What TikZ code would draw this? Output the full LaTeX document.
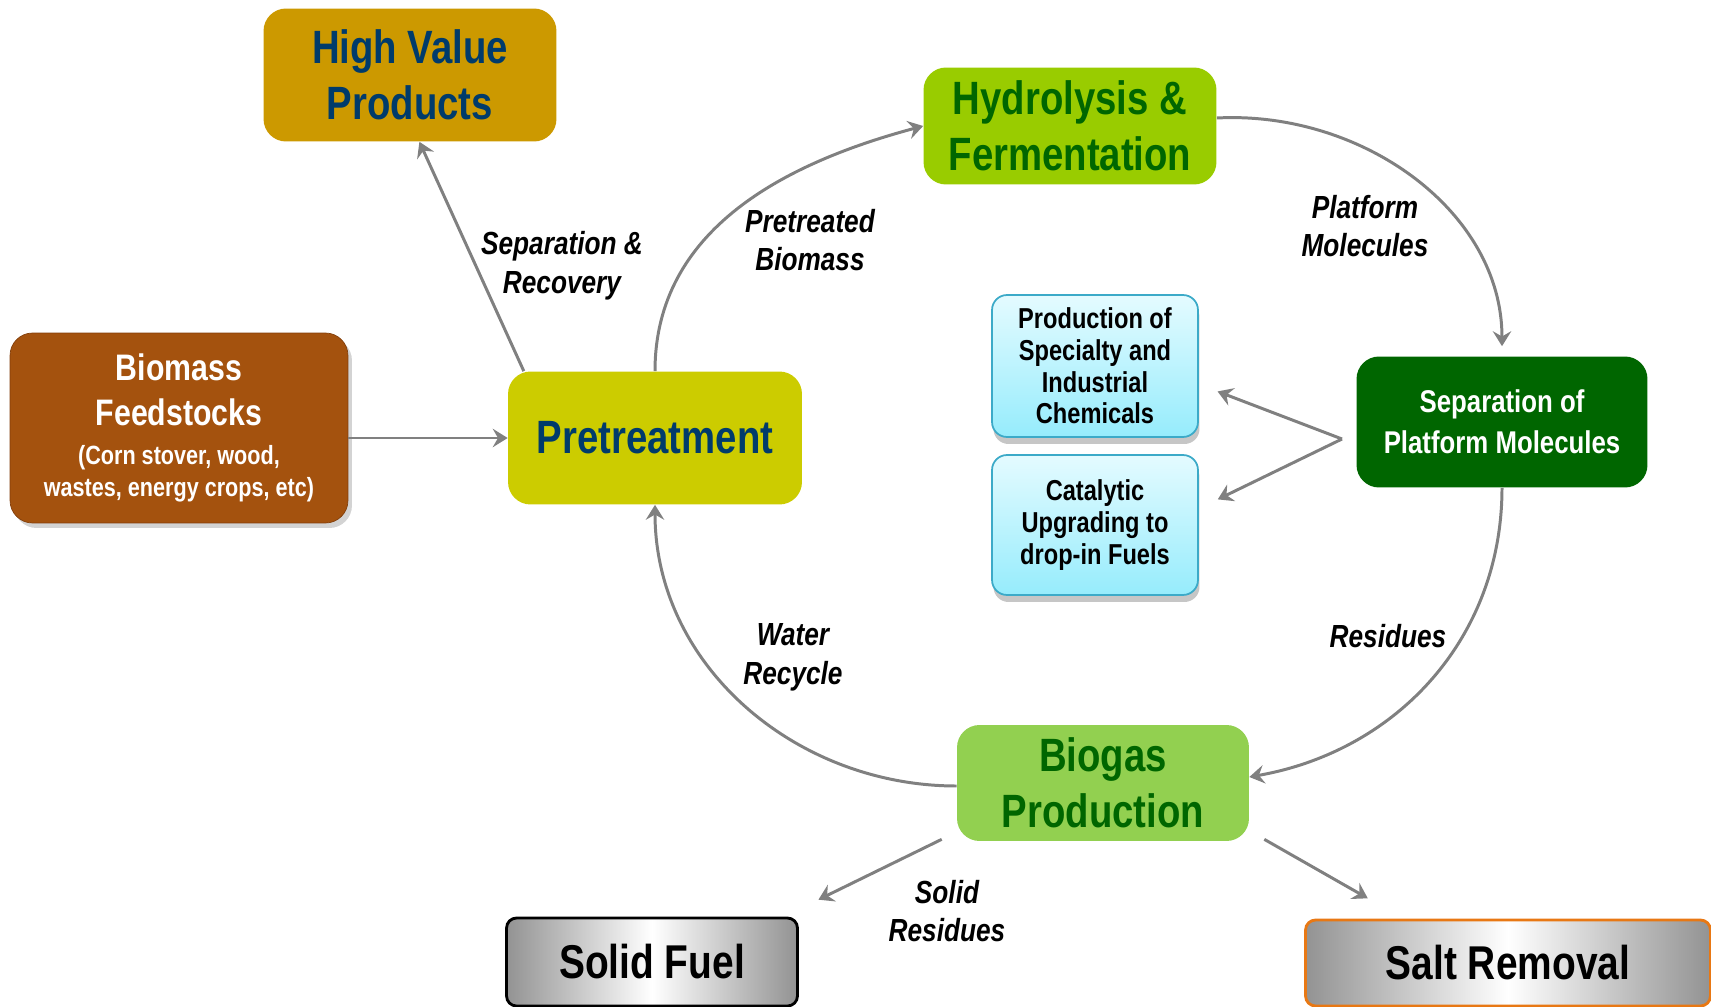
\documentclass[tikz,border=0pt]{standalone}
\usepackage{fontspec}
\setmainfont{Liberation Sans}[FakeStretch=0.82]
\usetikzlibrary{arrows.meta,shadows}
\definecolor{hvfill}{RGB}{204,153,0}
\definecolor{navy}{RGB}{0,59,107}
\definecolor{hydfill}{RGB}{153,204,0}
\definecolor{dgreen}{RGB}{0,102,0}
\definecolor{prefill}{RGB}{204,204,0}
\definecolor{bmfill}{RGB}{164,82,14}
\definecolor{bmdark}{RGB}{130,62,10}
\definecolor{biofill}{RGB}{146,208,80}
\definecolor{cyantop}{RGB}{228,251,255}
\definecolor{cyanbot}{RGB}{150,236,252}
\definecolor{cyanedge}{RGB}{60,170,200}
\definecolor{arrowgray}{RGB}{128,128,128}
\definecolor{saltedge}{RGB}{232,120,20}
\newcommand{\subsize}{\fontsize{15}{18.5}\selectfont}

\begin{document}
\begin{tikzpicture}[x=0.02cm, y=0.02cm,
  box/.style={rounded corners=0.45cm, inner sep=0pt, align=center, font=\bfseries\fontsize{26.6}{32}\selectfont},
  chembox/.style={rounded corners=0.3cm, inner sep=0pt, align=center, draw=cyanedge, line width=1pt, top color=cyantop, bottom color=cyanbot, minimum width=4.12cm, drop shadow={shadow xshift=0.03cm, shadow yshift=-0.14cm, opacity=0.45}, font=\bfseries\fontsize{16.4}{18}\selectfont},
  endbox/.style={rounded corners=0.2cm, inner sep=0pt, line width=1.6pt, left color=gray!85, right color=gray!85, middle color=white, font=\bfseries\fontsize{27}{32}\selectfont},
  flow/.style={draw=arrowgray, line width=1.7pt, -{Stealth[length=8.5pt,width=10.5pt,inset=3pt]}},
  lbl/.style={align=center, font=\bfseries\itshape\fontsize{18.2}{22}\selectfont}]
\useasboundingbox (0,0) rectangle (1711,-1007);
\node [box, fill=hvfill, text=navy, minimum width=5.86cm, minimum height=2.66cm] (hv) at (410,-75) {\raisebox{-2pt}{High Value}\\\raisebox{-2pt}{Products}};
\node [box, fill=hydfill, text=dgreen, minimum width=5.86cm, minimum height=2.34cm] (hyd) at (1070,-126) {\raisebox{-2pt}{Hydrolysis \&}\\\raisebox{-2pt}{Fermentation}};
\node [box, fill=bmfill, draw=bmdark, text=white, minimum width=6.76cm, minimum height=3.8cm, drop shadow={shadow xshift=0.08cm, shadow yshift=-0.1cm, opacity=0.35}, font=\bfseries\fontsize{21}{25.5}\selectfont] (bm) at (179,-428) {Biomass\\Feedstocks\\[-3.5pt]\subsize(Corn stover, wood,\\[-7pt]\subsize wastes, energy crops, etc)};
\node [box, fill=prefill, text=navy, minimum width=5.88cm, minimum height=2.66cm] (pre) at (655,-438) {Pretreatment};
\node [box, fill=dgreen, text=white, minimum width=5.82cm, minimum height=2.62cm, font=\bfseries\fontsize{17.9}{23.5}\selectfont] (sep) at (1502,-422) {\raisebox{-5pt}{Separation of}\\\raisebox{-5pt}{Platform Molecules}};
\node [chembox, minimum height=2.84cm] (prod) at (1095,-366) {Production of\\Specialty and\\Industrial\\Chemicals};
\node [chembox, minimum height=2.8cm] (cat) at (1095,-525) {Catalytic\\Upgrading to\\drop-in Fuels};
\node [box, fill=biofill, text=dgreen, minimum width=5.84cm, minimum height=2.32cm] (bio) at (1103,-783) {Biogas\\Production};
\node [endbox, draw=black, minimum width=5.82cm, minimum height=1.76cm] (sf) at (652,-962) {Solid Fuel};
\node [endbox, draw=saltedge, minimum width=8.1cm, minimum height=1.72cm] (salt) at (1508,-963) {Salt Removal};
\coordinate (fork) at (1342,-439);
\draw [flow] (bm.east |- pre.west) -- (pre.west);
\draw [flow] (pre.153) -- (hv.278);
\draw [flow] (pre.north) to [out=90, in=195] (hyd.west);
\draw [flow, shorten >=0.2cm] ([yshift=0.16cm]hyd.east) to [out=3, in=90] (sep.north);
\draw [flow] (sep.south) to [out=-90, in=10] ([yshift=0.12cm]bio.east);
\draw [flow] ([yshift=-0.06cm]bio.west) to [out=180, in=-90] (pre.south);
\draw [flow, shorten >=0.4cm] (fork) -- (prod.-10);
\draw [flow, shorten >=0.42cm] (fork) -- (cat.9);
\draw [flow, shorten >=0.77cm] ([xshift=-0.3cm,yshift=0.04cm]bio.south west) -- (sf.19);
\draw [flow, shorten >=0.82cm] ([xshift=0.3cm,yshift=0.04cm]bio.south east) -- (salt.157);
\node [lbl] (lsep) at (562,-266) {Separation \&\\Recovery};
\node [lbl] (lpre) at (810,-240) {Pretreated\\Biomass};
\node [lbl] (lplat) at (1365,-226) {Platform\\Molecules};
\node [lbl] (lwat) at (793,-657) {Water\\Recycle};
\node [lbl] (lres) at (1388,-636) {Residues};
\node [lbl] (lsol) at (947,-911) {Solid\\Residues};
\end{tikzpicture}
\end{document}
